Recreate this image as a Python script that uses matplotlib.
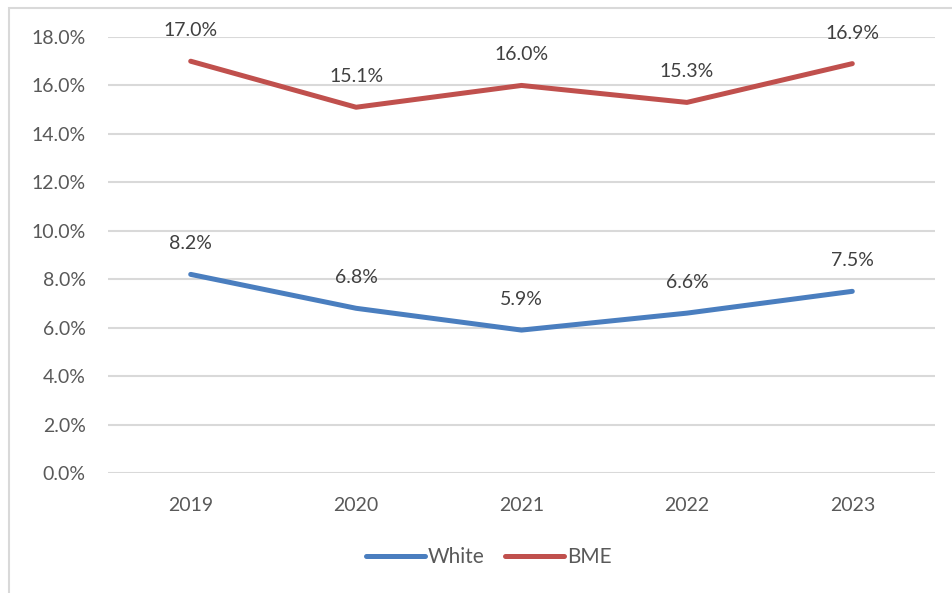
import matplotlib.pyplot as plt
from matplotlib.patches import Rectangle
from matplotlib.ticker import FuncFormatter

years = ["2019", "2020", "2021", "2022", "2023"]
white = [8.2, 6.8, 5.9, 6.6, 7.5]
bme = [17.0, 15.1, 16.0, 15.3, 16.9]
series_names = ["White", "BME"]

plt.rcParams["font.family"] = ["Lato", "DejaVu Sans"]

fig = plt.figure(figsize=(9.52, 5.93), dpi=100)
ax = fig.add_axes([108 / 952, 1 - 473 / 593, 827 / 952, 436 / 593])

# chart frame
fig.patches.append(Rectangle((9 / 952, -0.1), 1.2, 1 - 8 / 593 + 0.1,
                             transform=fig.transFigure, fill=False,
                             edgecolor="#D9D9D9", linewidth=1.5))

x = list(range(len(years)))
colors = ["#4A7EBF", "#C0504D"]
for vals, name, c in zip([white, bme], series_names, colors):
    ax.plot(x, vals, color=c, linewidth=3.6, solid_capstyle="round",
            solid_joinstyle="round", label=name)
    for xi, v in zip(x, vals):
        ax.annotate(f"{v:.1f}%", (xi, v), xytext=(0, 22), textcoords="offset points",
                    ha="center", va="center", fontsize=14, color="#404040")

ax.set_xlim(-0.5, len(years) - 0.5)
ax.set_ylim(0, 18)
ax.set_yticks(range(0, 19, 2))
ax.yaxis.set_major_formatter(FuncFormatter(lambda v, p: f"{v:.1f}%"))
ax.set_xticks(x)
ax.set_xticklabels(years)
ax.grid(axis="y", color="#D9D9D9", linewidth=1.5)
ax.set_axisbelow(True)
for s in ax.spines.values():
    s.set_visible(False)
ax.tick_params(axis="y", length=0, pad=16, labelsize=14, labelcolor="#595959")
ax.tick_params(axis="x", length=0, pad=17, labelsize=14, labelcolor="#595959")

fig.legend(loc="center", bbox_to_anchor=(489 / 952, 1 - 557 / 593), ncol=2,
           frameon=False, fontsize=15, handlelength=2.8, handletextpad=0.15,
           columnspacing=1.0, labelcolor="#595959")

fig.savefig("out.png", dpi=100)
